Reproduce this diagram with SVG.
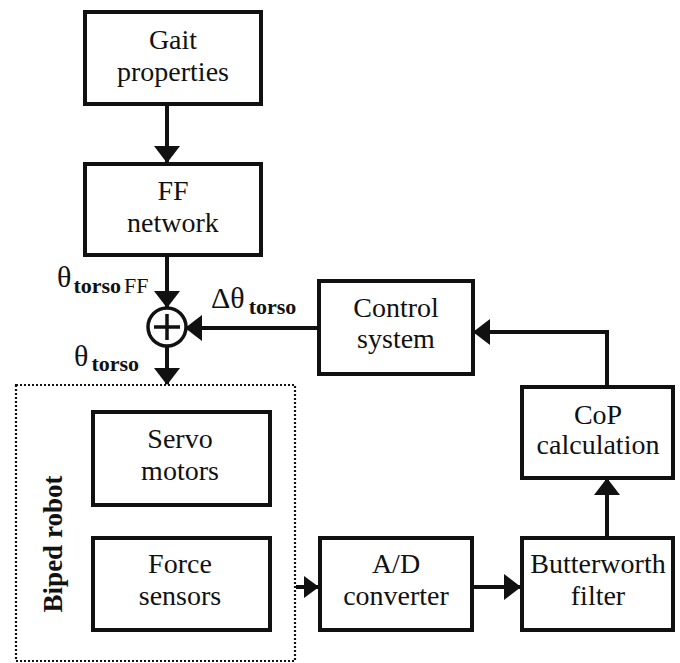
<svg xmlns="http://www.w3.org/2000/svg" width="680" height="663" viewBox="0 0 680 663">
<defs>
<marker id="ah" viewBox="0 0 17 26" refX="16" refY="13" markerWidth="17" markerHeight="26" markerUnits="userSpaceOnUse" orient="auto">
<path d="M0,0 L17,13 L0,26 z" fill="#111"/>
</marker>
<marker id="ahs" viewBox="0 0 15 22" refX="14" refY="11" markerWidth="15" markerHeight="22" markerUnits="userSpaceOnUse" orient="auto">
<path d="M0,0 L15,11 L0,22 z" fill="#111"/>
</marker>
</defs>
<rect width="680" height="663" fill="#fff"/>
<g id="connectors" fill="none" stroke="#111" stroke-width="4">
<line x1="167" y1="105" x2="167" y2="162" marker-end="url(#ah)"/>
<line x1="167" y1="255" x2="167" y2="307" marker-end="url(#ah)"/>
<line x1="318" y1="328" x2="186" y2="328" marker-end="url(#ah)"/>
<line x1="167" y1="346" x2="167" y2="384" marker-end="url(#ah)"/>
<path d="M607,387 V332 H474" marker-end="url(#ah)"/>
<line x1="607" y1="537" x2="607" y2="479" marker-end="url(#ah)"/>
<line x1="472" y1="587" x2="520" y2="587" marker-end="url(#ah)"/>
<line x1="296" y1="587" x2="318" y2="587" marker-end="url(#ahs)"/>
</g>
<g id="gait"><rect x="85" y="12" width="176" height="92" fill="#fff" stroke="#111" stroke-width="4"/><text x="173" y="49" font-family="Liberation Serif, Times New Roman, serif" font-size="28" text-anchor="middle" fill="#111">Gait</text><text x="173" y="81" font-family="Liberation Serif, Times New Roman, serif" font-size="28" text-anchor="middle" fill="#111">properties</text></g>
<g id="ff"><rect x="85" y="164" width="176" height="91" fill="#fff" stroke="#111" stroke-width="4"/><text x="173" y="200" font-family="Liberation Serif, Times New Roman, serif" font-size="28" text-anchor="middle" fill="#111">FF</text><text x="173" y="232" font-family="Liberation Serif, Times New Roman, serif" font-size="28" text-anchor="middle" fill="#111">network</text></g>
<g id="sum"><circle cx="167" cy="327" r="19" fill="#fff" stroke="#111" stroke-width="3.5"/><path d="M154,327 H180 M167,314 V340" stroke="#111" stroke-width="3.5"/></g>
<g id="labels">
<text x="57" y="287" font-family="Liberation Serif, Times New Roman, serif" font-size="30" fill="#111">θ<tspan font-size="22" font-weight="bold" dy="6" dx="2">torso</tspan><tspan font-size="22" dx="3">FF</tspan></text>
<text x="211" y="308" font-family="Liberation Serif, Times New Roman, serif" font-size="30" fill="#111">Δθ<tspan font-size="22" font-weight="bold" dy="6" dx="4">torso</tspan></text>
<text x="74" y="366" font-family="Liberation Serif, Times New Roman, serif" font-size="30" fill="#111">θ<tspan font-size="22" font-weight="bold" dy="5" dx="3">torso</tspan></text>
</g>
<g id="control"><rect x="319" y="281" width="154" height="93" fill="#fff" stroke="#111" stroke-width="4"/><text x="396" y="317" font-family="Liberation Serif, Times New Roman, serif" font-size="28" text-anchor="middle" fill="#111">Control</text><text x="396" y="348" font-family="Liberation Serif, Times New Roman, serif" font-size="28" text-anchor="middle" fill="#111">system</text></g>
<g id="cop"><rect x="522" y="387" width="151" height="91" fill="#fff" stroke="#111" stroke-width="4"/><text x="598" y="424" font-family="Liberation Serif, Times New Roman, serif" font-size="28" text-anchor="middle" fill="#111">CoP</text><text x="598" y="454" font-family="Liberation Serif, Times New Roman, serif" font-size="28" text-anchor="middle" fill="#111">calculation</text></g>
<g id="biped"><rect x="16" y="385" width="279" height="276" fill="none" stroke="#111" stroke-width="2.2" stroke-dasharray="2 2"/><text transform="translate(62,544) rotate(-90)" x="0" y="0" font-family="Liberation Serif, Times New Roman, serif" font-size="27" font-weight="bold" text-anchor="middle" fill="#111">Biped robot</text></g>
<g id="servo"><rect x="93" y="412" width="177" height="93" fill="#fff" stroke="#111" stroke-width="4"/><text x="180" y="448" font-family="Liberation Serif, Times New Roman, serif" font-size="28" text-anchor="middle" fill="#111">Servo</text><text x="180" y="480" font-family="Liberation Serif, Times New Roman, serif" font-size="28" text-anchor="middle" fill="#111">motors</text></g>
<g id="force"><rect x="93" y="538" width="177" height="92" fill="#fff" stroke="#111" stroke-width="4"/><text x="180" y="573" font-family="Liberation Serif, Times New Roman, serif" font-size="28" text-anchor="middle" fill="#111">Force</text><text x="180" y="605" font-family="Liberation Serif, Times New Roman, serif" font-size="28" text-anchor="middle" fill="#111">sensors</text></g>
<g id="ad"><rect x="320" y="538" width="152" height="92" fill="#fff" stroke="#111" stroke-width="4"/><text x="396" y="573" font-family="Liberation Serif, Times New Roman, serif" font-size="28" text-anchor="middle" fill="#111">A/D</text><text x="396" y="605" font-family="Liberation Serif, Times New Roman, serif" font-size="28" text-anchor="middle" fill="#111">converter</text></g>
<g id="butter"><rect x="522" y="538" width="151" height="92" fill="#fff" stroke="#111" stroke-width="4"/><text x="598" y="573" font-family="Liberation Serif, Times New Roman, serif" font-size="28" text-anchor="middle" fill="#111">Butterworth</text><text x="598" y="605" font-family="Liberation Serif, Times New Roman, serif" font-size="28" text-anchor="middle" fill="#111">filter</text></g>
</svg>
